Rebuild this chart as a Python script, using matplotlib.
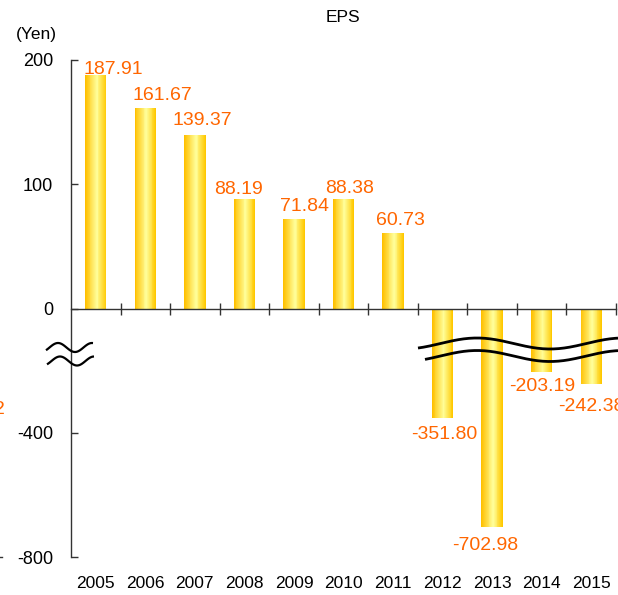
import numpy as np
import matplotlib
matplotlib.use("Agg")
import matplotlib.pyplot as plt
from matplotlib.colors import LinearSegmentedColormap
from matplotlib.lines import Line2D

plt.rcParams['font.family'] = ['Liberation Sans', 'DejaVu Sans']

# ---- data ----
years = ['2005', '2006', '2007', '2008', '2009', '2010', '2011',
         '2012', '2013', '2014', '2015']
eps = [187.91, 161.67, 139.37, 88.19, 71.84, 88.38, 60.73,
       -351.80, -702.98, -203.19, -242.38]
labels = ['187.91', '161.67', '139.37', '88.19', '71.84', '88.38', '60.73',
          '-351.80', '-702.98', '-203.19', '-242.38']
yticks = [200, 100, 0, -400, -800]
ytick_labels = ['200', '100', '0', '-400', '-800']

# label nudges in pixels (dx, gap from bar end)
label_dx = [18, 17, 7, -6, 11, 6, 7, 2, -7, 1, 0]
label_gap = [1, 8, 10, 5, 8, 6, 8, 7, 9, 5, 13]

W, H = 618, 595
fig = plt.figure(figsize=(W / 100, H / 100), dpi=100)
ax = fig.add_axes([71 / W, (H - 557) / H, (616 - 71) / W, (557 - 60) / H])


def fwd(v):
    v = np.asarray(v, dtype=float)
    return np.where(v >= 0, v, v / 4.0)


def inv(u):
    u = np.asarray(u, dtype=float)
    return np.where(u >= 0, u, u * 4.0)


ax.set_yscale('function', functions=(fwd, inv))
ax.set_ylim(-800, 200)
ax.set_xlim(-0.5, len(years) - 0.5)

# gradient bars
cmap = LinearSegmentedColormap.from_list(
    'gold', [(0.0, '#FFC000'), (0.55, '#FFFF9C'), (1.0, '#FFC800')])
bar_w = 0.43
nslice = 24
x = np.arange(len(years))
for k in range(nslice):
    off = -bar_w / 2 + (k + 0.5) * bar_w / nslice
    ax.bar(x + off, eps, width=bar_w / nslice * 1.02, color=cmap(k / (nslice - 1)),
           linewidth=0, antialiased=False, zorder=2)

# zero line with crossing ticks at category boundaries
ax.axhline(0, color='#333333', lw=1.0, zorder=3, clip_on=False)
bounds = np.arange(len(years)) + 0.5
ax.plot(bounds, np.zeros_like(bounds), linestyle='none', marker='|', ms=8,
        mew=1.0, color='#333333', zorder=3, clip_on=False)

# value labels
orange = '#FF6600'
for i, (v, lab) in enumerate(zip(eps, labels)):
    if v >= 0:
        ax.annotate(lab, (x[i], v), xytext=(label_dx[i], label_gap[i]),
                    textcoords='offset pixels', ha='center', va='baseline',
                    color=orange, fontsize=14, zorder=4, annotation_clip=False)
    else:
        ax.annotate(lab, (x[i], v), xytext=(label_dx[i], -label_gap[i] - 1),
                    textcoords='offset pixels', ha='center', va='top',
                    color=orange, fontsize=14, zorder=4, annotation_clip=False)

# axes styling
for s in ['top', 'right', 'bottom']:
    ax.spines[s].set_visible(False)
ax.spines['left'].set_color('#333333')
ax.spines['left'].set_linewidth(1.0)
ax.set_yticks(yticks)
ax.set_yticklabels(ytick_labels)
ax.yaxis.set_minor_locator(matplotlib.ticker.NullLocator())
ax.tick_params(axis='y', direction='in', length=5, width=1, color='#333333',
               pad=13, labelsize=13)
ax.set_xticks(x)
ax.set_xticklabels(years)
ax.tick_params(axis='x', length=0, pad=13.5, labelsize=12.5)

fig.text(343 / W, (H - 18) / H, 'EPS', ha='center', va='center', fontsize=12.5)
fig.text(36 / W, (H - 34) / H, '(Yen)', ha='center', va='center', fontsize=12.5)

# axis break marks (decorative, pixel coordinates)
def px_line(xs, ys, lw):
    fig.add_artist(Line2D(np.asarray(xs) / W, (H - np.asarray(ys)) / H,
                          transform=fig.transFigure, color='black', lw=lw,
                          solid_capstyle='butt', zorder=10))

xl = np.linspace(46, 93, 60)
px_line(xl, 347.5 - 4.5 * np.cos(2 * np.pi * (xl - 58) / 34), 1.6)
xl2 = np.linspace(47, 94, 60)
px_line(xl2, 361 - 4.5 * np.cos(2 * np.pi * (xl2 - 60) / 34), 1.6)

xr = np.linspace(418, 618, 150)
px_line(xr, 343.5 - 5.5 * np.cos(2 * np.pi * (xr - 477) / 146), 2.0)
xr2 = np.linspace(425, 618, 150)
px_line(xr2, 356 - 5.5 * np.cos(2 * np.pi * (xr2 - 477) / 146), 2.0)

# fragments of a neighbouring chart at the left edge
fig.text(5 / W, (H - 409) / H, '2', ha='right', va='center', color=orange,
         fontsize=14)
fig.add_artist(Line2D([0, 2 / W], [(H - 557) / H] * 2, transform=fig.transFigure,
                      color='#333333', lw=1))

fig.savefig('out.png', dpi=100)
